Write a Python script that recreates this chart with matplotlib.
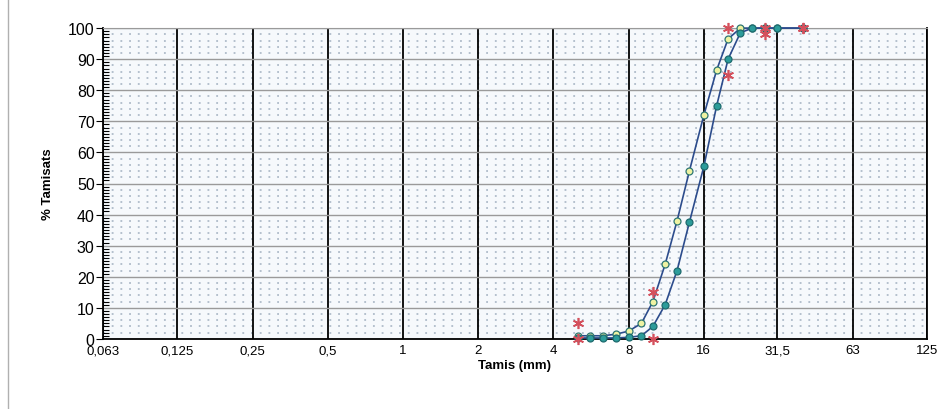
import matplotlib.pyplot as plt
from matplotlib.lines import Line2D

plt.rcParams['font.family'] = ['Liberation Sans', 'DejaVu Sans']

# tamisos (mm) i % que passa
sieves = [5, 5.6, 6.3, 7.1, 8, 9, 10, 11.2, 12.5, 14, 16, 18, 20, 22.4, 25, 28, 31.5, 40]
pass_a = [1, 1, 1, 1.5, 2.5, 5, 12, 24, 38, 54, 72, 86.5, 96.5, 100, 100, 100, 100, 100]
pass_b = [0.3, 0.3, 0.3, 0.3, 0.5, 1, 4, 11, 22, 37.5, 55.5, 75, 90, 98.5, 100, 100, 100, 100]

# fus granulometric (limits)
spec_x = [5, 10, 20, 28, 40]
spec_low = [0, 0, 85, 98, 100]
spec_high = [5, 15, 100, 100, 100]

xticks = [0.063, 0.125, 0.25, 0.5, 1, 2, 4, 8, 16, 31.5, 63, 125]
xlabels = ["0,063", "0,125", "0,25", "0,5", "1", "2", "4", "8", "16", "31,5", "63", "125"]

fig = plt.figure(figsize=(9.47, 4.10), dpi=100)
ax = fig.add_axes([0.1088, 0.171, 0.870, 0.758])
ax.set_facecolor('#f6f9fc')

ax.set_xscale('log', base=2)
ax.set_xlim(0.063, 125)
ax.set_ylim(0, 100)
ax.set_xticks(xticks)
ax.set_xticklabels(xlabels)
ax.minorticks_off()
ax.set_yticks(range(0, 101, 10))
ax.set_yticks(range(0, 101, 1), minor=True)
ax.tick_params(axis='x', length=0, pad=4, labelsize=9.5)
ax.tick_params(axis='y', which='major', length=5, direction='out', labelsize=11.5, pad=1)
ax.tick_params(axis='y', which='minor', length=4, direction='in', width=0.8)

ax.grid(axis='x', which='major', color='black', linewidth=1.3)
ax.grid(axis='y', which='major', color='#9a9a9a', linewidth=1.0)
for v in range(2, 100, 2):
    if v % 10:
        ax.axhline(v, color='#a2b0c0', linewidth=1.1, linestyle=(0, (1.2, 4.5)), zorder=0.5)
ax.set_axisbelow(True)

for s in ['left', 'bottom', 'right']:
    ax.spines[s].set_color('black')
    ax.spines[s].set_linewidth(1.3)
ax.spines['top'].set_color('#9a9a9a')

ax.plot(sieves, pass_a, color='#2c4c8c', linewidth=1.2, marker='o', markersize=5,
        markerfacecolor='#eef3a2', markeredgecolor='#2d7673', markeredgewidth=0.9, clip_on=False, zorder=3)
ax.plot(sieves, pass_b, color='#2c4c8c', linewidth=1.2, marker='o', markersize=5,
        markerfacecolor='#2c9c9a', markeredgecolor='#1e6b6e', markeredgewidth=0.9, clip_on=False, zorder=4)
ax.plot(spec_x, spec_high, linestyle='none', marker=(6, 2, 0), markersize=8,
        markeredgecolor='#d4505c', markeredgewidth=1.2, clip_on=False, zorder=5)
ax.plot(spec_x, spec_low, linestyle='none', marker=(6, 2, 0), markersize=8,
        markeredgecolor='#d4505c', markeredgewidth=1.2, clip_on=False, zorder=5)

ax.set_xlabel("Tamis (mm)", fontsize=9.5, fontweight='bold', labelpad=2)
ax.set_ylabel("% Tamisats", fontsize=9.5, fontweight='bold', labelpad=10)

fig.add_artist(Line2D([8 / 947, 8 / 947], [0, 1], color='#b0b0b0', linewidth=1.0))

fig.savefig('out.png', dpi=100)
